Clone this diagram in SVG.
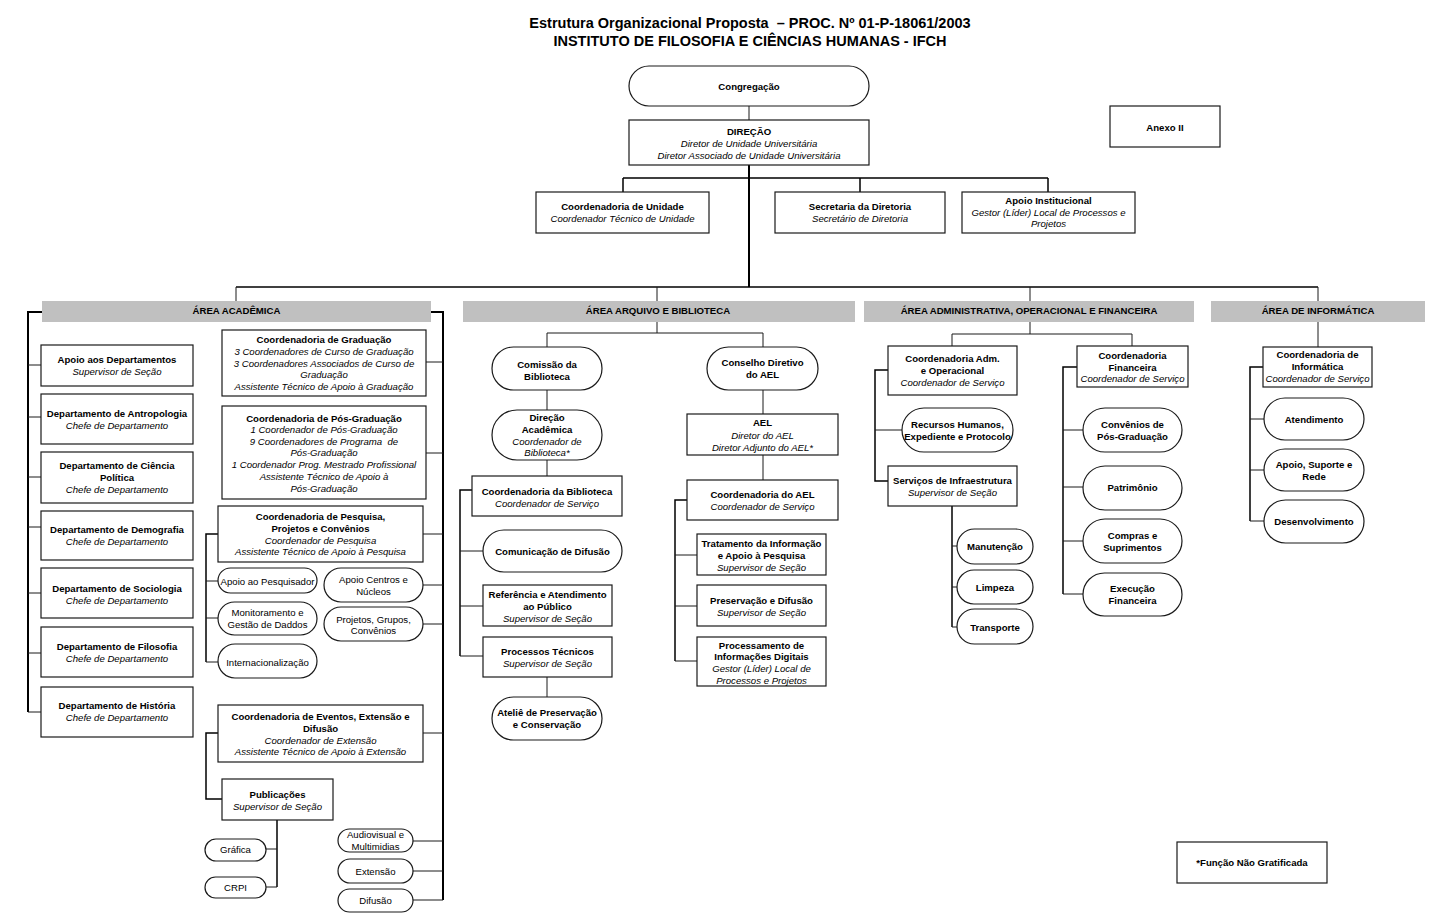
<svg xmlns="http://www.w3.org/2000/svg" width="1430" height="923" viewBox="0 0 1430 923">
<style>
text{font-family:"Liberation Sans",Arial,sans-serif;font-size:9.6px;text-anchor:middle;fill:#000}
.b{font-weight:bold}
.i{font-style:italic}
.t{font-size:14.5px;font-weight:bold}
.bx{fill:#fff;stroke:#1a1a1a;stroke-width:1.2}
.bar{fill:#c0c0c0}
.ln{stroke:#1a1a1a;stroke-width:1;fill:none}
.tk{stroke:#000;stroke-width:2;fill:none}
.md{stroke:#000;stroke-width:1.5;fill:none}
</style>
<rect width="1430" height="923" fill="#fff"/>
<g id="title">
<text class="t" x="750" y="28" xml:space="preserve">Estrutura Organizacional Proposta  – PROC. Nº 01-P-18061/2003</text>
<text class="t" x="750" y="46">INSTITUTO DE FILOSOFIA E CIÊNCIAS HUMANAS - IFCH</text>
</g>
<g id="connectors">
<path class="ln" d="M749,106V120"/>
<path class="tk" d="M749,165V287"/>
<path class="md" d="M623,178H1048M623,178V192M860,178V192M1048,178V192"/>
<path class="md" d="M236,287H1318"/>
<path class="ln" d="M236,287V301M657,287V301M1030,287V301M1318,287V301"/>
<path class="tk" d="M42,312H28V712M431,312H443V900"/>
<path class="ln" d="M28,365H41M28,417H41M28,477H41M28,527H41M28,593H41M28,653H41M28,712H41"/>
<path class="ln" d="M443,362H426M443,453H426M443,534H423M443,585H423M443,624H423M443,733H423M443,841H413M443,871H413M443,900H413"/>
<path class="md" d="M218,534H206V662"/>
<path class="ln" d="M206,581H218M206,618H218M206,662H218"/>
<path class="md" d="M218,733H206V799H222"/>
<path class="md" d="M277,820V887"/>
<path class="ln" d="M266,849H277M266,887H277"/>
<path class="ln" d="M657,322V333M547,333H763M547,333V347M763,333V347M547,390V410M547,460V476M547,677V697M763,390V414M763,455V480"/>
<path class="md" d="M472,490H460V656"/>
<path class="ln" d="M460,551H483M460,606H483M460,656H483"/>
<path class="md" d="M687,500H675V661"/>
<path class="ln" d="M675,555H697M675,606H697M675,661H697"/>
<path class="ln" d="M1030,322V334M952,334H1132M952,334V346M1132,334V346"/>
<path class="md" d="M888,370H875V481H888"/>
<path class="ln" d="M875,430H902"/>
<path class="md" d="M952,506V627"/>
<path class="ln" d="M952,546H957M952,587H957M952,627H957"/>
<path class="md" d="M1077,367H1063V594"/>
<path class="ln" d="M1063,430H1083M1063,487H1083M1063,541H1083M1063,594H1083"/>
<path class="ln" d="M1318,322V347"/>
<path class="md" d="M1263,367H1250V521"/>
<path class="ln" d="M1250,419H1264M1250,470H1264M1250,521H1264"/>
</g>
<g id="congregacao"><rect class="bx" x="629" y="66" width="240" height="40" rx="20"/><text class="b" x="749" y="89.5">Congregação</text></g>
<g id="direcao"><rect class="bx" x="629" y="120" width="240" height="45"/><text class="b" x="749" y="134.5">DIREÇÃO</text><text class="i" x="749" y="146.5">Diretor de Unidade Universitária</text><text class="i" x="749" y="158.5">Diretor Associado de Unidade Universitária</text></g>
<g id="anexo"><rect class="bx" x="1110" y="106" width="110" height="41"/><text class="b" x="1165" y="130.5">Anexo II</text></g>
<g id="coord-unidade"><rect class="bx" x="536" y="192" width="173" height="41"/><text class="b" x="622.5" y="209.5">Coordenadoria de Unidade</text><text class="i" x="622.5" y="221.5">Coordenador Técnico de Unidade</text></g>
<g id="secretaria"><rect class="bx" x="775" y="192" width="170" height="41"/><text class="b" x="860" y="209.5">Secretaria da Diretoria</text><text class="i" x="860" y="221.5">Secretário de Diretoria</text></g>
<g id="apoio-inst"><rect class="bx" x="962" y="192" width="173" height="41"/><text class="b" x="1048.5" y="203.5">Apoio Institucional</text><text class="i" x="1048.5" y="215.5">Gestor (Líder) Local de Processos e</text><text class="i" x="1048.5" y="226.5">Projetos</text></g>
<g id="area-academica"><rect class="bar" x="42" y="301" width="389" height="21"/><text class="b" x="236.5" y="314">ÁREA ACADÊMICA</text></g>
<g id="area-arquivo"><rect class="bar" x="463" y="301" width="392" height="21"/><text class="b" x="658" y="314">ÁREA ARQUIVO E BIBLIOTECA</text></g>
<g id="area-admin"><rect class="bar" x="864" y="301" width="330" height="21"/><text class="b" x="1029" y="314">ÁREA ADMINISTRATIVA, OPERACIONAL E FINANCEIRA</text></g>
<g id="area-info"><rect class="bar" x="1211" y="301" width="214" height="21"/><text class="b" x="1318" y="314">ÁREA DE INFORMÁTICA</text></g>
<g id="apoio-dep"><rect class="bx" x="41" y="345" width="152" height="41"/><text class="b" x="117" y="362.5">Apoio aos Departamentos</text><text class="i" x="117" y="374.5">Supervisor de Seção</text></g>
<g id="dep-antropologia"><rect class="bx" x="41" y="394" width="152" height="50"/><text class="b" x="117" y="416.5">Departamento de Antropologia</text><text class="i" x="117" y="428.5">Chefe de Departamento</text></g>
<g id="dep-ciencia-politica"><rect class="bx" x="41" y="452" width="152" height="51"/><text class="b" x="117" y="468.5">Departamento de Ciência</text><text class="b" x="117" y="480.5">Política</text><text class="i" x="117" y="492.5">Chefe de Departamento</text></g>
<g id="dep-demografia"><rect class="bx" x="41" y="511" width="152" height="49"/><text class="b" x="117" y="532.5">Departamento de Demografia</text><text class="i" x="117" y="544.5">Chefe de Departamento</text></g>
<g id="dep-sociologia"><rect class="bx" x="41" y="568" width="152" height="50"/><text class="b" x="117" y="591.5">Departamento de Sociologia</text><text class="i" x="117" y="603.5">Chefe de Departamento</text></g>
<g id="dep-filosofia"><rect class="bx" x="41" y="627" width="152" height="50"/><text class="b" x="117" y="649.5">Departamento de Filosofia</text><text class="i" x="117" y="661.5">Chefe de Departamento</text></g>
<g id="dep-historia"><rect class="bx" x="41" y="687" width="152" height="50"/><text class="b" x="117" y="708.5">Departamento de História</text><text class="i" x="117" y="720.5">Chefe de Departamento</text></g>
<g id="coord-graduacao"><rect class="bx" x="222" y="330" width="204" height="66"/><text class="b" x="324" y="342.5">Coordenadoria de Graduação</text><text class="i" x="324" y="354.5">3 Coordenadores de Curso de Graduação</text><text class="i" x="324" y="366.5">3 Coordenadores Associados de Curso de</text><text class="i" x="324" y="377.5">Graduação</text><text class="i" x="324" y="389.5">Assistente Técnico de Apoio à Graduação</text></g>
<g id="coord-pos"><rect class="bx" x="222" y="406" width="204" height="93"/><text class="b" x="324" y="421.5">Coordenadoria de Pós-Graduação</text><text class="i" x="324" y="432.5">1 Coordenador de Pós-Graduação</text><text class="i" x="324" y="444.5" xml:space="preserve">9 Coordenadores de Programa  de</text><text class="i" x="324" y="455.5">Pós-Graduação</text><text class="i" x="324" y="467.5">1 Coordenador Prog. Mestrado Profissional</text><text class="i" x="324" y="479.5">Assistente Técnico de Apoio à</text><text class="i" x="324" y="491.5">Pós-Graduação</text></g>
<g id="coord-pesquisa"><rect class="bx" x="218" y="506" width="205" height="56"/><text class="b" x="320.5" y="519.5">Coordenadoria de Pesquisa,</text><text class="b" x="320.5" y="531.5">Projetos e Convênios</text><text class="i" x="320.5" y="543.5">Coordenador de Pesquisa</text><text class="i" x="320.5" y="554.5">Assistente Técnico de Apoio à Pesquisa</text></g>
<g id="apoio-pesquisador"><rect class="bx" x="218" y="568" width="99" height="25" rx="12.5"/><text x="267.5" y="584.5">Apoio ao Pesquisador</text></g>
<g id="monitoramento"><rect class="bx" x="218" y="602" width="99" height="33" rx="16.5"/><text x="267.5" y="615.5">Monitoramento e</text><text x="267.5" y="627.5">Gestão de Daddos</text></g>
<g id="internacionalizacao"><rect class="bx" x="218" y="644" width="99" height="34" rx="17"/><text x="267.5" y="665.5">Internacionalização</text></g>
<g id="apoio-centros"><rect class="bx" x="324" y="568" width="99" height="34" rx="17"/><text x="373.5" y="582.5">Apoio Centros e</text><text x="373.5" y="594.5">Núcleos</text></g>
<g id="projetos-grupos"><rect class="bx" x="324" y="607" width="99" height="34" rx="17"/><text x="373.5" y="622.5">Projetos, Grupos,</text><text x="373.5" y="633.5">Convênios</text></g>
<g id="coord-eventos"><rect class="bx" x="218" y="705" width="205" height="57"/><text class="b" x="320.5" y="719.5">Coordenadoria de Eventos, Extensão e</text><text class="b" x="320.5" y="731.5">Difusão</text><text class="i" x="320.5" y="743.5">Coordenador de Extensão</text><text class="i" x="320.5" y="754.5">Assistente Técnico de Apoio à Extensão</text></g>
<g id="publicacoes"><rect class="bx" x="222" y="779" width="111" height="41"/><text class="b" x="277.5" y="797.5">Publicações</text><text class="i" x="277.5" y="809.5">Supervisor de Seção</text></g>
<g id="grafica"><rect class="bx" x="205" y="839" width="61" height="22" rx="11"/><text x="235.5" y="852.5">Gráfica</text></g>
<g id="crpi"><rect class="bx" x="205" y="877" width="61" height="21" rx="10.5"/><text x="235.5" y="890.5">CRPI</text></g>
<g id="audiovisual"><rect class="bx" x="338" y="829" width="75" height="23" rx="11.5"/><text x="375.5" y="837.5">Audiovisual e</text><text x="375.5" y="849.5">Multimidias</text></g>
<g id="extensao"><rect class="bx" x="338" y="859" width="75" height="24" rx="12"/><text x="375.5" y="874.5">Extensão</text></g>
<g id="difusao"><rect class="bx" x="338" y="889" width="75" height="23" rx="11.5"/><text x="375.5" y="903.5">Difusão</text></g>
<g id="comissao-biblioteca"><rect class="bx" x="492" y="347" width="110" height="43" rx="21.5"/><text class="b" x="547" y="367.5">Comissão da</text><text class="b" x="547" y="379.5">Biblioteca</text></g>
<g id="direcao-academica"><rect class="bx" x="492" y="410" width="110" height="50" rx="25"/><text class="b" x="547" y="420.5">Direção</text><text class="b" x="547" y="432.5">Acadêmica</text><text class="i" x="547" y="444.5">Coordenador de</text><text class="i" x="547" y="455.5">Biblioteca*</text></g>
<g id="coord-biblioteca"><rect class="bx" x="472" y="476" width="150" height="40"/><text class="b" x="547" y="494.5">Coordenadoria da Biblioteca</text><text class="i" x="547" y="506.5">Coordenador de Serviço</text></g>
<g id="comunicacao-difusao"><rect class="bx" x="483" y="530" width="139" height="42" rx="21"/><text class="b" x="552.5" y="554.5">Comunicação de Difusão</text></g>
<g id="referencia"><rect class="bx" x="483" y="585" width="129" height="41"/><text class="b" x="547.5" y="597.5">Referência e Atendimento</text><text class="b" x="547.5" y="609.5">ao Público</text><text class="i" x="547.5" y="621.5">Supervisor de Seção</text></g>
<g id="processos-tecnicos"><rect class="bx" x="483" y="637" width="129" height="40"/><text class="b" x="547.5" y="654.5">Processos Técnicos</text><text class="i" x="547.5" y="666.5">Supervisor de Seção</text></g>
<g id="atelie"><rect class="bx" x="492" y="697" width="110" height="43" rx="21.5"/><text class="b" x="547" y="715.5">Ateliê de Preservação</text><text class="b" x="547" y="727.5">e Conservação</text></g>
<g id="conselho-ael"><rect class="bx" x="707" y="347" width="111" height="43" rx="21.5"/><text class="b" x="762.5" y="365.5">Conselho Diretivo</text><text class="b" x="762.5" y="377.5">do AEL</text></g>
<g id="ael"><rect class="bx" x="687" y="414" width="151" height="41"/><text class="b" x="762.5" y="425.5">AEL</text><text class="i" x="762.5" y="438.5">Diretor do AEL</text><text class="i" x="762.5" y="450.5">Diretor Adjunto do AEL*</text></g>
<g id="coord-ael"><rect class="bx" x="687" y="480" width="151" height="40"/><text class="b" x="762.5" y="497.5">Coordenadoria do AEL</text><text class="i" x="762.5" y="509.5">Coordenador de Serviço</text></g>
<g id="tratamento"><rect class="bx" x="697" y="534" width="129" height="41"/><text class="b" x="761.5" y="546.5">Tratamento da Informação</text><text class="b" x="761.5" y="558.5">e Apoio à Pesquisa</text><text class="i" x="761.5" y="570.5">Supervisor de Seção</text></g>
<g id="preservacao"><rect class="bx" x="697" y="585" width="129" height="41"/><text class="b" x="761.5" y="603.5">Preservação e Difusão</text><text class="i" x="761.5" y="615.5">Supervisor de Seção</text></g>
<g id="processamento"><rect class="bx" x="697" y="637" width="129" height="49"/><text class="b" x="761.5" y="648.5">Processamento de</text><text class="b" x="761.5" y="659.5">Informações Digitais</text><text class="i" x="761.5" y="671.5">Gestor (Líder) Local de</text><text class="i" x="761.5" y="683.5">Processos e Projetos</text></g>
<g id="coord-adm"><rect class="bx" x="888" y="346" width="129" height="49"/><text class="b" x="952.5" y="361.5">Coordenadoria Adm.</text><text class="b" x="952.5" y="373.5">e Operacional</text><text class="i" x="952.5" y="385.5">Coordenador de Serviço</text></g>
<g id="recursos-humanos"><rect class="bx" x="902" y="408" width="111" height="44" rx="22"/><text class="b" x="957.5" y="427.5">Recursos Humanos,</text><text class="b" x="957.5" y="439.5">Expediente e Protocolo</text></g>
<g id="servicos-infra"><rect class="bx" x="888" y="466" width="129" height="40"/><text class="b" x="952.5" y="483.5">Serviços de Infraestrutura</text><text class="i" x="952.5" y="495.5">Supervisor de Seção</text></g>
<g id="manutencao"><rect class="bx" x="957" y="529" width="76" height="35" rx="17.5"/><text class="b" x="995" y="549.5">Manutenção</text></g>
<g id="limpeza"><rect class="bx" x="957" y="570" width="76" height="34" rx="17"/><text class="b" x="995" y="590.5">Limpeza</text></g>
<g id="transporte"><rect class="bx" x="957" y="609" width="76" height="35" rx="17.5"/><text class="b" x="995" y="630.5">Transporte</text></g>
<g id="coord-financeira"><rect class="bx" x="1077" y="346" width="111" height="41"/><text class="b" x="1132.5" y="358.5">Coordenadoria</text><text class="b" x="1132.5" y="370.5">Financeira</text><text class="i" x="1132.5" y="381.5">Coordenador de Serviço</text></g>
<g id="convenios-pos"><rect class="bx" x="1083" y="408" width="99" height="44" rx="22"/><text class="b" x="1132.5" y="427.5">Convênios de</text><text class="b" x="1132.5" y="439.5">Pós-Graduação</text></g>
<g id="patrimonio"><rect class="bx" x="1083" y="466" width="99" height="44" rx="22"/><text class="b" x="1132.5" y="490.5">Patrimônio</text></g>
<g id="compras"><rect class="bx" x="1083" y="519" width="99" height="44" rx="22"/><text class="b" x="1132.5" y="538.5">Compras e</text><text class="b" x="1132.5" y="550.5">Suprimentos</text></g>
<g id="execucao"><rect class="bx" x="1083" y="573" width="99" height="43" rx="21.5"/><text class="b" x="1132.5" y="591.5">Execução</text><text class="b" x="1132.5" y="603.5">Financeira</text></g>
<g id="coord-informatica"><rect class="bx" x="1263" y="347" width="109" height="40"/><text class="b" x="1317.5" y="357.5">Coordenadoria de</text><text class="b" x="1317.5" y="369.5">Informática</text><text class="i" x="1317.5" y="381.5">Coordenador de Serviço</text></g>
<g id="atendimento"><rect class="bx" x="1264" y="398" width="100" height="42" rx="21"/><text class="b" x="1314" y="422.5">Atendimento</text></g>
<g id="apoio-suporte"><rect class="bx" x="1264" y="449" width="100" height="42" rx="21"/><text class="b" x="1314" y="467.5">Apoio, Suporte e</text><text class="b" x="1314" y="479.5">Rede</text></g>
<g id="desenvolvimento"><rect class="bx" x="1264" y="500" width="100" height="43" rx="21.5"/><text class="b" x="1314" y="524.5">Desenvolvimento</text></g>
<g id="legenda"><rect class="bx" x="1177" y="842" width="150" height="41"/><text class="b" x="1252" y="865.5">*Função Não Gratificada</text></g>
</svg>
